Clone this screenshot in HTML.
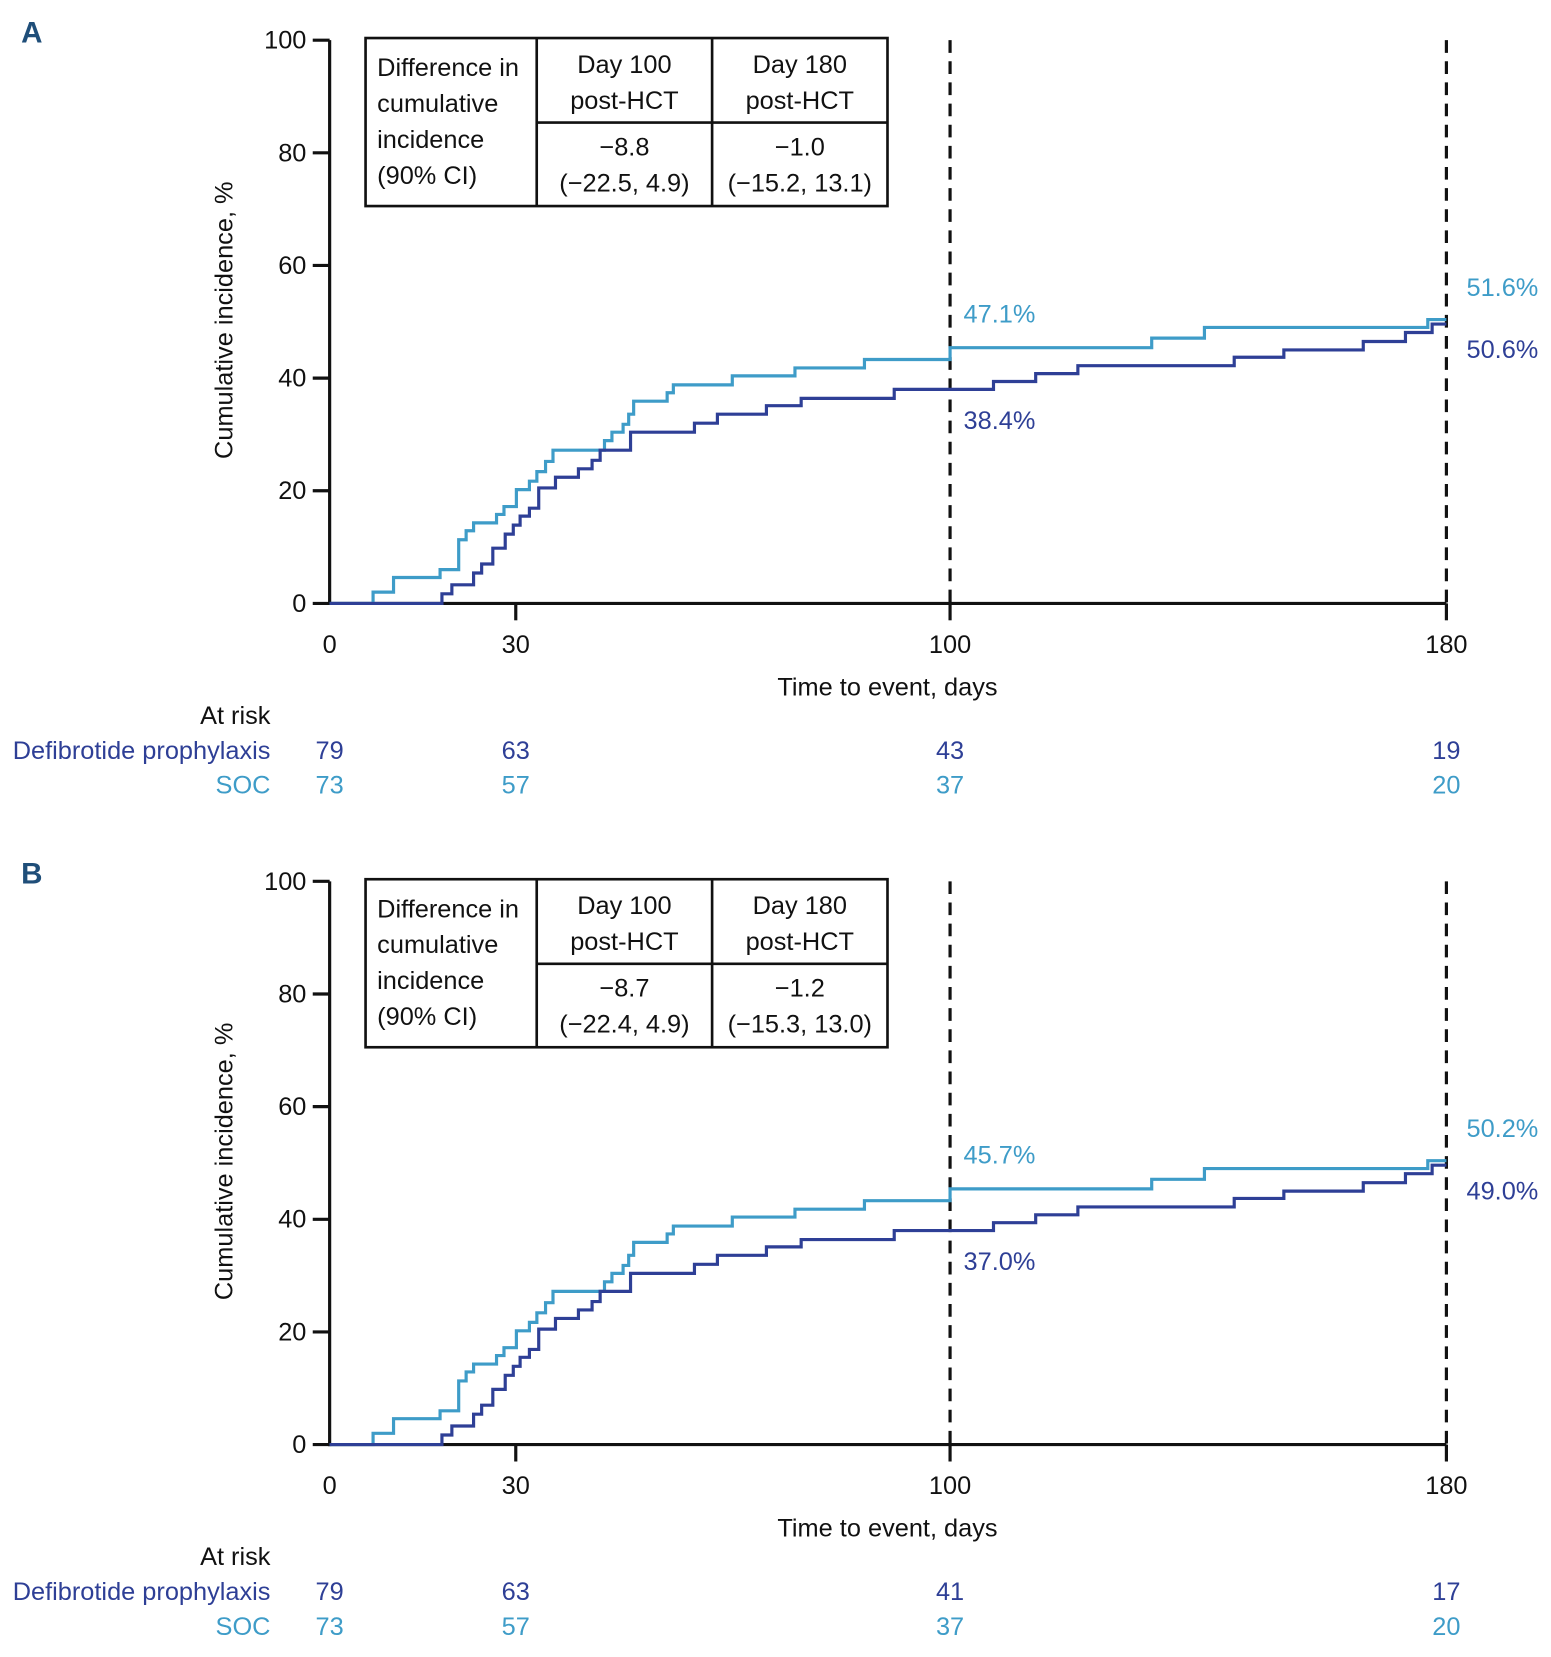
<!DOCTYPE html>
<html><head><meta charset="utf-8"><style>
html,body{margin:0;padding:0;background:#fff;}
svg{display:block;font-family:"Liberation Sans Narrow","Liberation Sans",sans-serif;}
</style></head><body>
<svg id="fig" width="1551" height="1657" viewBox="0 0 1468 1568" preserveAspectRatio="none" xmlns="http://www.w3.org/2000/svg"></svg>
<script>
// ---- data ----
const socDays  = [0,7.0,10.3,17.8,20.8,22.0,23.2,26.9,28.1,30.1,32.2,33.4,34.8,36.0,44.3,45.5,47.3,48.2,49.0,54.4,55.4,64.9,75.0,86.2,100.0,132.5,141.0,177.0,180];
const socVals  = [0,2.0,4.6,6.0,11.3,12.9,14.3,15.8,17.2,20.2,21.7,23.4,25.2,27.2,28.9,30.4,31.8,33.6,35.9,37.4,38.8,40.4,41.8,43.3,45.4,47.1,49.0,50.4,50.4];
const defDays  = [0,18.1,19.7,23.2,24.5,26.3,28.3,29.6,30.7,32.2,33.7,36.4,40.1,42.3,43.6,48.5,58.8,62.5,70.4,76.0,91.0,107.0,113.8,120.6,145.8,153.8,166.6,173.4,177.7,180];
const defVals  = [0,1.7,3.3,5.4,7.0,9.8,12.3,13.9,15.5,16.9,20.5,22.4,23.9,25.4,27.2,30.4,32.0,33.6,35.1,36.4,38.0,39.4,40.8,42.2,43.7,45.0,46.5,48.1,49.6,49.6];
const yTicks = [0,20,40,60,80,100];
const xTicks = [0,30,100,180];
const panelLetters = ["A","B"];
const diff100 = ["\u22128.8","\u22128.7"];
const ci100 = ["(\u221222.5, 4.9)","(\u221222.4, 4.9)"];
const diff180 = ["\u22121.0","\u22121.2"];
const ci180 = ["(\u221215.2, 13.1)","(\u221215.3, 13.0)"];
const socLabel100 = ["47.1%","45.7%"];
const defLabel100 = ["38.4%","37.0%"];
const socLabel180 = ["51.6%","50.2%"];
const defLabel180 = ["50.6%","49.0%"];
const riskDef = [[79,63,43,19],[79,63,41,17]];
const riskSoc = [[73,57,37,20],[73,57,37,20]];

const DARK="#2E3F96", LIGHT="#3E9CC8";
const svg=document.getElementById('fig');
const NS="http://www.w3.org/2000/svg";
function mk(tag,attrs,parent){const e=document.createElementNS(NS,tag);for(const k in attrs)e.setAttribute(k,attrs[k]);(parent||svg).appendChild(e);return e;}
function txt(s,x,y,opts,parent){const e=mk('text',Object.assign({x:x,y:y,'font-size':24,fill:'#111'},opts||{}),parent);e.textContent=s;return e;}

const X=d=>312+d*(1057/180);
function stepPath(days,vals,Y){let p=`M${X(days[0])},${Y(vals[0])}`;for(let i=1;i<days.length;i++){p+=` H${X(days[i])} V${Y(vals[i])}`;}return p;}

for(let k=0;k<2;k++){
  const off=k*796;
  const Y=v=>571+off-v*5.33;
  const g=mk('g',{});
  
  
  const L=txt(panelLetters[k],20,40+off,{'font-size':28,'font-weight':'bold',fill:'#1F4E79','font-family':'Liberation Sans, sans-serif'},g);
  
  
  // dashed lines
  [100,180].forEach(d=>{const l=mk('line',{x1:X(d),x2:X(d),y1:Y(100),y2:Y(0),stroke:'#111','stroke-width':3,'stroke-dasharray':'12,8'},g);
    
    });
  // axes
  const ya=mk('line',{x1:312,x2:312,y1:Y(100),y2:Y(0)+1.5,stroke:'#111','stroke-width':3},g);
  
  
  const xa=mk('line',{x1:310.5,x2:X(180),y1:Y(0),y2:Y(0),stroke:'#111','stroke-width':3},g);
  
  
  yTicks.forEach(v=>{mk('line',{x1:296,x2:312,y1:Y(v),y2:Y(v),stroke:'#111','stroke-width':3},g);
    const t=txt(String(v),290,Y(v)+8,{'text-anchor':'end'},g);
    
    });
  xTicks.forEach(d=>{if(d>0)mk('line',{x1:X(d),x2:X(d),y1:Y(0),y2:Y(0)+16,stroke:'#111','stroke-width':3},g);
    const t=txt(String(d),X(d),Y(0)+47,{'text-anchor':'middle'},g);
    
    });
  const xt=txt('Time to event, days',840,Y(0)+87,{'text-anchor':'middle'},g);
  
  
  const yt=txt('Cumulative incidence, %',0,0,{'text-anchor':'middle',transform:`translate(220,${303+off}) rotate(-90)`},g);
  
  
  // series
  const ps=mk('path',{d:stepPath(socDays,socVals,Y),fill:'none',stroke:LIGHT,'stroke-width':3},g);
  
  
  const pd=mk('path',{d:stepPath(defDays,defVals,Y),fill:'none',stroke:DARK,'stroke-width':3},g);
  
  
  // value labels
  [[socLabel100[k],912,305,LIGHT,'soc-day100-label'],[defLabel100[k],912,406,DARK,'defibrotide-day100-label'],
   [socLabel180[k],1388,280,LIGHT,'soc-day180-label'],[defLabel180[k],1388,339,DARK,'defibrotide-day180-label']].forEach(a=>{
    const t=txt(a[0],a[1],a[2]+off,{fill:a[3]},g);
    
    });
  // table
  const tb=mk('g',{},g);
  
  
  mk('rect',{x:346,y:36+off,width:494,height:159,fill:'#fff',stroke:'#111','stroke-width':2.5},tb);
  mk('line',{x1:508,x2:508,y1:36+off,y2:195+off,stroke:'#111','stroke-width':2.5},tb);
  mk('line',{x1:674,x2:674,y1:36+off,y2:195+off,stroke:'#111','stroke-width':2.5},tb);
  mk('line',{x1:508,x2:840,y1:116+off,y2:116+off,stroke:'#111','stroke-width':2.5},tb);
  ['Difference in','cumulative','incidence','(90% CI)'].forEach((s,i)=>txt(s,357,72+off+i*34,{},tb));
  txt('Day 100',591,69+off,{'text-anchor':'middle'},tb);
  txt('post-HCT',591,103+off,{'text-anchor':'middle'},tb);
  txt('Day 180',757,69+off,{'text-anchor':'middle'},tb);
  txt('post-HCT',757,103+off,{'text-anchor':'middle'},tb);
  txt(diff100[k],591,147+off,{'text-anchor':'middle'},tb);
  txt(ci100[k],591,181+off,{'text-anchor':'middle'},tb);
  txt(diff180[k],757,147+off,{'text-anchor':'middle'},tb);
  txt(ci180[k],757,181+off,{'text-anchor':'middle'},tb);
  // at risk
  const ar=txt('At risk',256,685+off,{'text-anchor':'end'},g);
  
  
  const ld=txt('Defibrotide prophylaxis',256,718+off,{'text-anchor':'end',fill:DARK},g);
  
  
  const ls=txt('SOC',256,751+off,{'text-anchor':'end',fill:LIGHT},g);
  
  
  xTicks.forEach((d,i)=>{
    const a=txt(String(riskDef[k][i]),X(d),718+off,{'text-anchor':'middle',fill:DARK},g);
    
    
    const b=txt(String(riskSoc[k][i]),X(d),751+off,{'text-anchor':'middle',fill:LIGHT},g);
    
    
  });
}
</script>
</body></html>
